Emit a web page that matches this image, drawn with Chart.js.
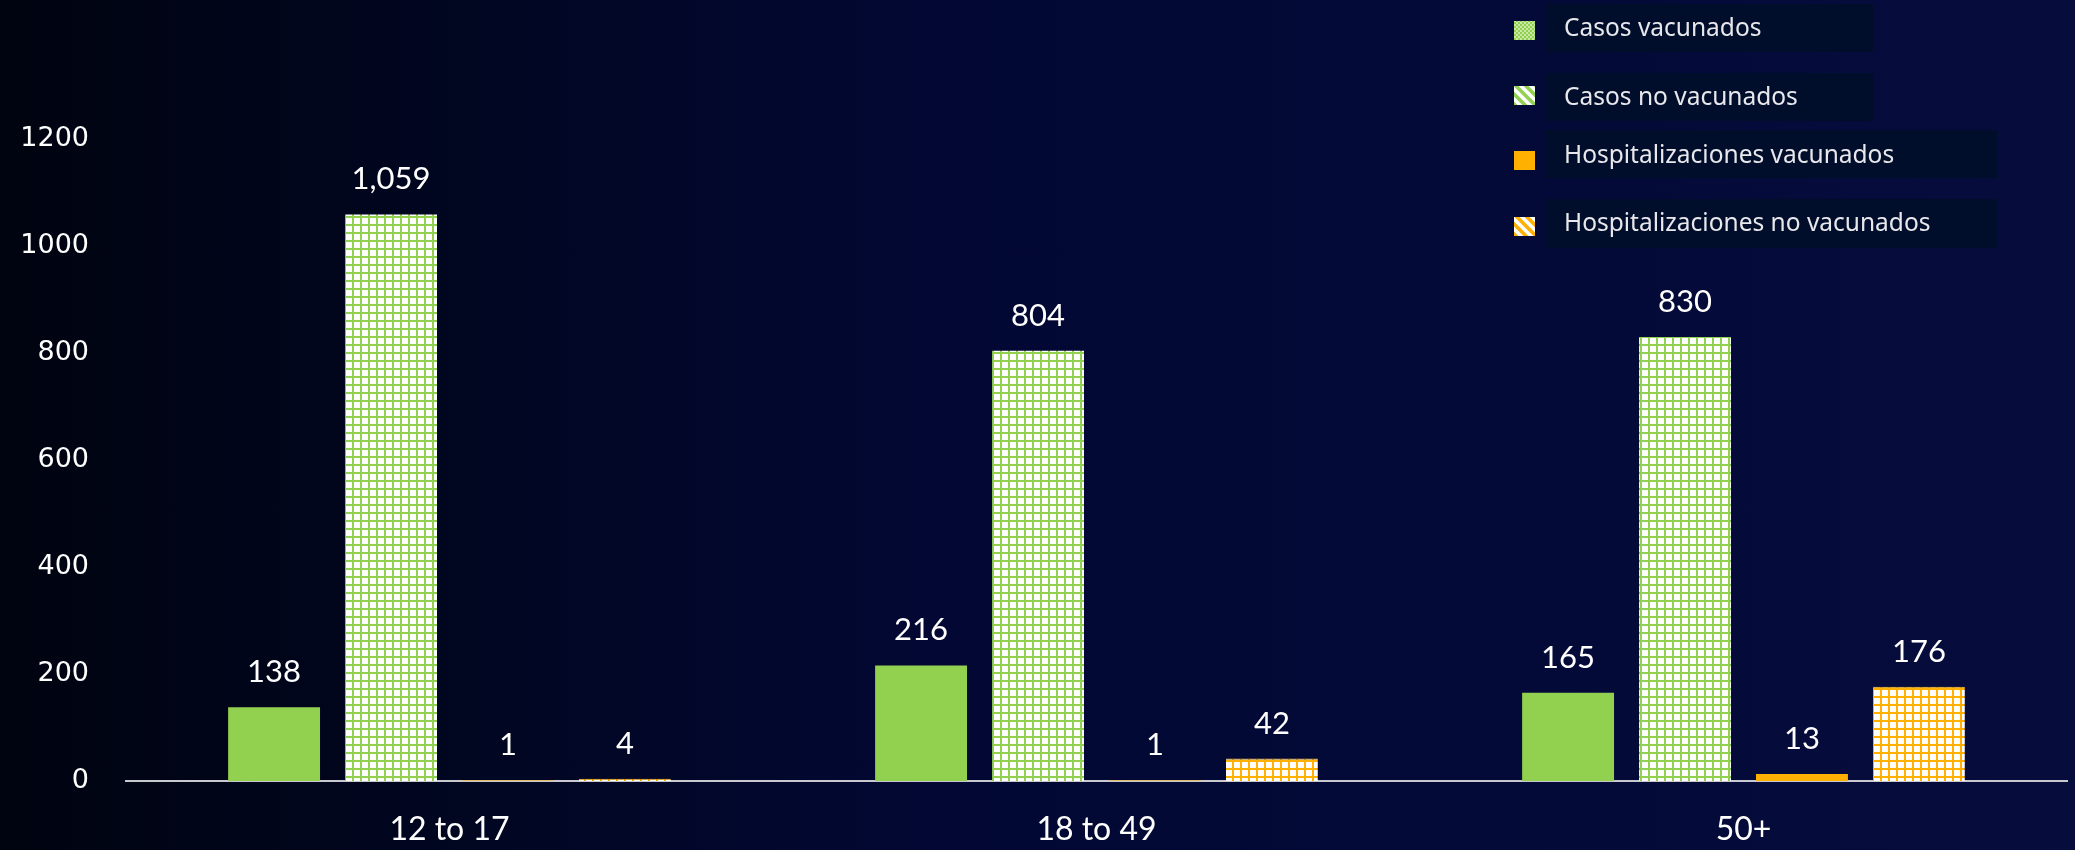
<!DOCTYPE html>
<html>
<head>
<meta charset="utf-8">
<title>Casos y hospitalizaciones por edad</title>
<script src="https://cdn.jsdelivr.net/npm/chart.js"></script>
<style>
    body { margin: 0; padding: 0; background: #000511; }
    #wrap {
        width: 2075px;
        height: 850px;
        background: linear-gradient(to right, #000410 0%, #020833 45%, #060c3c 100%);
    }
</style>
</head>
<body>
<div id="wrap">
    <canvas id="myChart" width="2075" height="850"></canvas>
</div>

<script>
    // Datos
    var categories = ['12 to 17', '18 to 49', '50+'];
    var casosVacunados = [138, 216, 165];
    var casosNoVacunados = [1059, 804, 830];
    var hospVacunados = [1, 1, 13];
    var hospNoVacunados = [4, 42, 176];
    var yTicks = [0, 200, 400, 600, 800, 1000, 1200];
    var legendLabels = ['Casos vacunados', 'Casos no vacunados', 'Hospitalizaciones vacunados', 'Hospitalizaciones no vacunados'];

    var green = '#92d050';
    var orange = '#ffb000';

    var ctx = document.getElementById('myChart').getContext('2d');

    // cuadricula (grid) sobre fondo blanco
    function gridPattern(color) {
        var c = document.createElement('canvas');
        c.width = 8; c.height = 8;
        var g = c.getContext('2d');
        g.fillStyle = '#ffffff';
        g.fillRect(0, 0, 8, 8);
        g.fillStyle = color;
        g.fillRect(0, 0, 2, 8);
        g.fillRect(0, 0, 8, 2);
        return ctx.createPattern(c, 'repeat');
    }

    // rayas diagonales anchas para la leyenda
    function stripePattern(color) {
        var c = document.createElement('canvas');
        c.width = 10; c.height = 10;
        var g = c.getContext('2d');
        g.fillStyle = '#ffffff';
        g.fillRect(0, 0, 10, 10);
        g.strokeStyle = color;
        g.lineWidth = 3.6;
        g.beginPath();
        g.moveTo(-2, -2); g.lineTo(12, 12);
        g.moveTo(-7, 3); g.lineTo(7, 17);
        g.moveTo(3, -7); g.lineTo(17, 7);
        g.stroke();
        return ctx.createPattern(c, 'repeat');
    }

    function checkerPattern(color) {
        var c = document.createElement('canvas');
        c.width = 4; c.height = 4;
        var g = c.getContext('2d');
        g.fillStyle = '#c9e8a6';
        g.fillRect(0, 0, 4, 4);
        g.fillStyle = color;
        g.fillRect(0, 0, 2, 2);
        g.fillRect(2, 2, 2, 2);
        return ctx.createPattern(c, 'repeat');
    }

    var legendSwatches = [checkerPattern(green), stripePattern(green), orange, stripePattern(orange)];
    var legendBoxes = [
        { y: 4, h: 48, w: 327, sy: 21, ty: 29 },
        { y: 73, h: 48, w: 327, sy: 86, ty: 98 },
        { y: 130, h: 48, w: 451, sy: 151, ty: 156 },
        { y: 199, h: 49, w: 451, sy: 217, ty: 224 }
    ];

    var legendPlugin = {
        id: 'boxLegend',
        afterDraw: function(chart) {
            var c = chart.ctx;
            c.save();
            legendLabels.forEach(function(label, i) {
                var b = legendBoxes[i];
                c.fillStyle = '#000d2b';
                c.fillRect(1546, b.y, b.w, b.h);
                c.fillStyle = legendSwatches[i];
                c.fillRect(1514, b.sy, 21, 19);
                c.fillStyle = '#e8e8ec';
                c.font = '24.5px "Noto Sans"';
                c.textBaseline = 'middle';
                c.textAlign = 'left';
                c.fillText(label, 1564, b.ty);
            });
            c.restore();
        }
    };

    var valueLabels = {
        id: 'valueLabels',
        afterDatasetsDraw: function(chart) {
            var c = chart.ctx;
            c.save();
            c.fillStyle = '#ffffff';
            c.font = '31px Lato';
            c.textAlign = 'center';
            c.textBaseline = 'middle';
            chart.data.datasets.forEach(function(ds, i) {
                chart.getDatasetMeta(i).data.forEach(function(bar, j) {
                    c.fillText(ds.data[j].toLocaleString('en-US'), bar.x, bar.y - 35);
                });
            });
            c.restore();
        }
    };

    var config = {
        type: 'bar',
        data: {
            labels: categories,
            datasets: [
                { label: legendLabels[0], data: casosVacunados, backgroundColor: green },
                { label: legendLabels[1], data: casosNoVacunados, backgroundColor: gridPattern(green) },
                { label: legendLabels[2], data: hospVacunados, backgroundColor: orange },
                { label: legendLabels[3], data: hospNoVacunados, backgroundColor: gridPattern(orange), borderColor: orange, borderWidth: { top: 1 } }
            ]
        },
        options: {
            responsive: false,
            animation: false,
            layout: { padding: { top: 32, right: 8, left: 0, bottom: 0 } },
            datasets: {
                bar: { categoryPercentage: 0.723, barPercentage: 0.786 }
            },
            plugins: {
                legend: { display: false },
                tooltip: { enabled: false }
            },
            scales: {
                x: {
                    grid: { display: false, drawTicks: false },
                    border: { display: true, color: '#c8c8d0', width: 2 },
                    ticks: { color: '#ffffff', font: { family: 'Lato', size: 32 }, padding: 29 },
                    afterFit: function(s) { s.height = 69; }
                },
                y: {
                    min: 0,
                    max: 1400,
                    grid: { display: false, drawTicks: false },
                    border: { display: false },
                    afterBuildTicks: function(s) {
                        s.ticks = yTicks.map(function(v) { return { value: v }; });
                    },
                    ticks: {
                        color: '#ffffff',
                        font: { family: '"DejaVu Sans"', size: 27 },
                        padding: 37,
                        callback: function(v) { return String(v); }
                    },
                    afterFit: function(s) {
                        s.width = 126;
                        s.paddingTop = 0;
                        s.paddingBottom = 0;
                    }
                }
            }
        },
        plugins: [valueLabels, legendPlugin]
    };

    var myChart = new Chart(ctx, config);
</script>
</body>
</html>
